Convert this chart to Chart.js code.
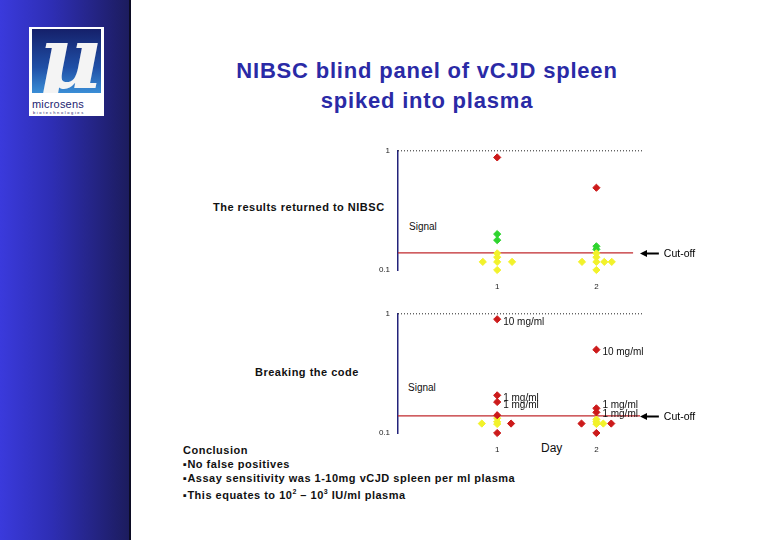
<!DOCTYPE html>
<html>
<head>
<meta charset="utf-8">
<title>NIBSC blind panel of vCJD spleen spiked into plasma</title>
<script src="https://cdn.jsdelivr.net/npm/chart.js"></script>
<style>
  body { margin: 0; width: 780px; height: 540px; position: relative; background: #fff; overflow: hidden;
         font-family: Arial, "Liberation Sans", sans-serif; color: #111; }
  .abs { position: absolute; white-space: nowrap; line-height: 14px; }
  .side { position: absolute; left: 0; top: 0; width: 129px; height: 540px;
          background: linear-gradient(to right, #3a3adc, #2e2eb4 40%, #1c1c5e); border-right: 2px solid #0c0c24; }
  .logo { position: absolute; left: 29px; top: 27px; width: 75px; height: 89px; background: #fff; }
  .logo .mark { position: absolute; left: 3px; top: 2px; width: 69px; height: 64px; overflow: hidden;
                background: linear-gradient(to bottom, #15206a, #1f4fa6 60%, #3a8ed6); }
  .logo .mu { position: absolute; left: 6px; top: -22px; font: bold 86px "DejaVu Serif", serif; color: #f4f4f4; font-style: italic; }
  .logo .name { position: absolute; left: 3px; top: 71px; font-size: 11px; color: #1c2470; letter-spacing: 0.2px; }
  .logo .sub { position: absolute; left: 4px; top: 83px; font-size: 4px; color: #1c2470; letter-spacing: 1.6px; }
  .title { position: absolute; left: 177px; width: 500px; top: 56px; text-align: center; font-weight: bold;
           font-size: 22px; line-height: 30px; letter-spacing: 0.8px; color: #2a2aa6; }
  .bold { font-weight: bold; font-size: 11px; letter-spacing: 0.5px; }
  .small { font-size: 10px; }
  canvas { position: absolute; }
</style>
</head>
<body>
<div class="side">
  <div class="logo">
    <div class="mark"><span class="mu">μ</span></div>
    <div class="name">microsens</div>
    <div class="sub">biotechnologies</div>
  </div>
</div>

<div class="title">NIBSC blind panel of vCJD spleen<br>spiked into plasma</div>

<div class="abs bold" style="left:213px; top:200px;">The results returned to NIBSC</div>
<div class="abs small" style="left:409px; top:220px;">Signal</div>
<div class="abs bold" style="left:255px; top:365px;">Breaking the code</div>
<div class="abs small" style="left:408px; top:381px;">Signal</div>
<div class="abs" style="left:541px; top:441px; font-size:12px;">Day</div>

<div class="abs bold" style="left:183px; top:443px;">Conclusion</div>
<div class="abs bold" style="left:183px; top:457px;">▪No false positives</div>
<div class="abs bold" style="left:183px; top:471px;">▪Assay sensitivity was 1-10mg vCJD spleen per ml plasma</div>
<div class="abs bold" style="left:183px; top:485px;">▪This equates to 10<sup style="font-size:7px;">2</sup> – 10<sup style="font-size:7px;">3</sup> IU/ml plasma</div>

<canvas id="returned" width="380" height="162" style="left:330px; top:138px;"></canvas>
<canvas id="decoded" width="380" height="162" style="left:330px; top:301px;"></canvas>

<script>
// tick labels / axis values
const days = [1, 2];
const signalTicks = [0.1, 1];
const cutOff = 0.139;

// panel 1: the results returned to NIBSC
const p1RedX = [1, 2];
const p1RedY = [0.88, 0.49];
const p1GreenX = [1, 1, 2, 2];
const p1GreenY = [0.2, 0.178, 0.158, 0.149];
const p1YellowX = [0.855, 1, 1, 1, 1.15, 1, 1.855, 2, 2, 2, 2.08, 2.155, 2];
const p1YellowY = [0.117, 0.138, 0.128, 0.117, 0.117, 0.1, 0.117, 0.138, 0.128, 0.117, 0.117, 0.117, 0.1];

// panel 2: breaking the code
const p2RedX = [1, 1, 1, 1, 1.14, 1, 2, 2, 2, 1.85, 2.15, 2];
const p2RedY = [0.9, 0.207, 0.182, 0.141, 0.12, 0.1, 0.5, 0.161, 0.149, 0.12, 0.12, 0.1];
const p2RedLabels = ['10 mg/ml', '1 mg/ml', '1 mg/ml', '', '', '', '10 mg/ml', '1 mg/ml', '1 mg/ml', '', '', ''];
const p2YellowX = [0.845, 1, 1, 1, 2, 2, 2, 2.07];
const p2YellowY = [0.12, 0.133, 0.124, 0.119, 0.13, 0.124, 0.119, 0.12];

const RED = '#cc1a1a', GREEN = '#2ed42e', YELLOW = '#f2f22a';
const FONT = 'Arial, "Liberation Sans", sans-serif';
Chart.defaults.font.family = FONT;

const pts = (xs, ys) => xs.map((x, i) => ({ x: x, y: ys[i] }));

// arrow + "Cut-off" text to the right of the red line
const cutoffPlugin = {
  id: 'cutoffArrow',
  afterDraw(chart, args, opts) {
    const { ctx, scales: { x, y } } = chart;
    const py = Math.round(y.getPixelForValue(cutOff)) + 0.5;
    const x0 = x.getPixelForValue(opts.from), x1 = x.getPixelForValue(opts.to);
    ctx.save();
    ctx.strokeStyle = '#000';
    ctx.fillStyle = '#000';
    ctx.lineWidth = 2;
    ctx.beginPath(); ctx.moveTo(x0 + 5, py); ctx.lineTo(x1, py); ctx.stroke();
    ctx.beginPath(); ctx.moveTo(x0, py); ctx.lineTo(x0 + 7, py - 3.5); ctx.lineTo(x0 + 7, py + 3.5); ctx.closePath(); ctx.fill();
    ctx.font = '10.5px ' + FONT;
    ctx.textBaseline = 'middle';
    ctx.fillText('Cut-off', x1 + opts.gap, py + 1);
    ctx.restore();
  }
};

// concentration labels beside the points
const labelPlugin = {
  id: 'pointLabels',
  afterDatasetsDraw(chart, args, opts) {
    if (!opts.texts) return;
    const meta = chart.getDatasetMeta(0);
    const ctx = chart.ctx;
    ctx.save();
    ctx.font = '10px ' + FONT;
    ctx.fillStyle = '#111';
    ctx.textBaseline = 'middle';
    opts.texts.forEach((t, i) => {
      if (!t) return;
      const p = meta.data[i];
      ctx.fillText(t, p.x + 6, p.y + 3 + (opts.nudge[i] || 0));
    });
    ctx.restore();
  }
};

function panel(id, sets, lineEnd, labelOpts) {
  const xMax = 2.47;
  const datasets = sets.map(s => ({
    type: 'scatter',
    data: pts(s.x, s.y),
    pointStyle: 'rectRot',
    pointRadius: 3.6,
    pointHoverRadius: 3.6,
    backgroundColor: s.color,
    borderColor: s.color,
    borderWidth: 1,
    clip: false
  }));
  datasets.push({
    type: 'line', data: [{ x: 0, y: cutOff }, { x: lineEnd, y: cutOff }],
    borderColor: '#c0282c', borderWidth: 1.2, pointRadius: 0, clip: false
  });
  datasets.push({
    type: 'line', data: [{ x: 0, y: 1 }, { x: xMax, y: 1 }],
    borderColor: '#222', borderWidth: 1, borderDash: [1, 2], pointRadius: 0, clip: false
  });

  new Chart(document.getElementById(id), {
    type: 'scatter',
    data: { datasets: datasets },
    options: {
      responsive: false,
      animation: false,
      events: [],
      layout: { padding: { top: 3, right: 67, left: 0, bottom: 0 } },
      plugins: {
        legend: { display: false },
        tooltip: { enabled: false },
        cutoffArrow: { from: 2.44, to: 2.63, gap: 5 },
        pointLabels: labelOpts || {}
      },
      scales: {
        x: {
          type: 'linear', min: 0, max: xMax,
          grid: { display: false, drawTicks: false },
          border: { display: false },
          afterBuildTicks: s => { s.ticks = days.map(v => ({ value: v })); },
          afterFit: s => { s.height = 30; },
          ticks: { padding: 12, font: { size: 8 }, color: '#222', callback: v => String(v) }
        },
        y: {
          type: 'logarithmic', min: 0.1, max: 1,
          grid: { display: false, drawTicks: false },
          border: { display: true, color: '#23237a', width: 1.5 },
          afterBuildTicks: s => { s.ticks = signalTicks.map(v => ({ value: v })); },
          afterFit: s => { s.width = 68; },
          ticks: { padding: 8, font: { size: 8 }, color: '#222', callback: v => (v === 1 ? '1' : '0.1') }
        }
      }
    },
    plugins: [cutoffPlugin, labelPlugin]
  });
}

panel('returned', [
  { x: p1YellowX, y: p1YellowY, color: YELLOW },
  { x: p1GreenX, y: p1GreenY, color: GREEN },
  { x: p1RedX, y: p1RedY, color: RED }
], 2.37);

panel('decoded', [
  { x: p2RedX, y: p2RedY, color: RED },
  { x: p2YellowX, y: p2YellowY, color: YELLOW }
], 2.44, { texts: p2RedLabels, nudge: [0, 0, 0, 0, 0, 0, 0, -6, -1] });
</script>
</body>
</html>
